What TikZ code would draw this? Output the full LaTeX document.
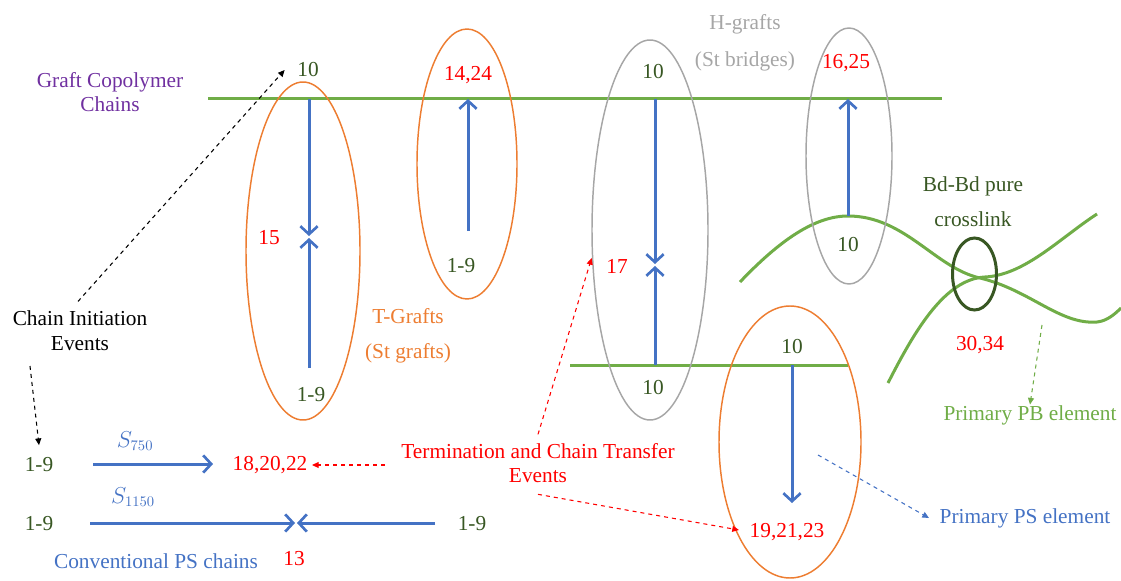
\documentclass[tikz,border=0pt]{standalone}
\usepackage{fontspec}
\setmainfont{Liberation Serif}
\usetikzlibrary{arrows.meta}
\definecolor{pblue}{HTML}{4472C4}
\definecolor{pgreen}{HTML}{70AD47}
\definecolor{dkgreen}{HTML}{385723}
\definecolor{porange}{HTML}{ED7D31}
\definecolor{pgray}{HTML}{A6A6A6}
\definecolor{ppurple}{HTML}{7030A0}
\begin{document}
\begin{tikzpicture}[x=0.75pt,y=-0.75pt,font=\fontsize{16}{18.5}\selectfont,
  chainline/.style={draw=pgreen, line width=2.25pt},
  growarrow/.style={-{Straight Barb[length=6pt,width=13pt,line width=2pt]}, draw=pblue, line width=2.25pt},
  hint/.style={-{Triangle[length=5pt,width=4.5pt]}, dashed, line width=0.8pt},
  tgraft/.style={draw=porange, line width=1.1pt},
  hgraft/.style={draw=pgray, line width=1.1pt},
  num/.style={text=dkgreen},
  evt/.style={text=red}]
\useasboundingbox (0,0) rectangle (1121,581);
\draw[chainline] (208,99) -- (942,99);
\draw[chainline] (570,365) -- (848,365);
\draw[chainline] (740,282) .. controls (780,240) and (815,216) .. (848,216)
  .. controls (905,216) and (935,268) .. (980,278)
  .. controls (1030,290) and (1060,325) .. (1097,322)
  .. controls (1107,321) and (1115,314) .. (1121,308);
\draw[chainline] (888,383) .. controls (915,330) and (945,279) .. (985,277)
  .. controls (1025,275) and (1060,238) .. (1097,214);
\draw[tgraft] (303,251) ellipse [x radius=57, y radius=169];
\draw[tgraft] (467,164) ellipse [x radius=50, y radius=135];
\draw[hgraft] (650,230) ellipse [x radius=58, y radius=190];
\draw[hgraft] (849,156) ellipse [x radius=43, y radius=128];
\draw[tgraft] (790,442) ellipse [x radius=71, y radius=136];
\draw[draw=dkgreen, line width=2.25pt] (974.5,274) ellipse [x radius=22, y radius=36];
\node[text=ppurple, align=center] (gcc) at (110,92) {Graft Copolymer\\Chains};
\node[align=center] (init) at (80,331) {Chain Initiation\\Events};
\node[text=porange, align=center] (tg) at (408,336) {T-Grafts\\[7.5pt](St grafts)};
\node[text=pgray, align=center] (hg) at (745,43) {H-grafts\\[9pt](St bridges)};
\node[text=dkgreen, align=center] (bd) at (973,202) {Bd-Bd pure\\[7.5pt]crosslink};
\node[evt, align=center] (term) at (538,463) {Termination and Chain Transfer\\Events};
\node[text=pgreen] (pbe) at (1030,415) {Primary PB element};
\node[text=pblue] (pse) at (1025,518) {Primary PS element};
\node[text=pblue] (cps) at (156,561) {Conventional PS chains};
\node[num] (n10a) at (308,70) {10};
\node[evt] (r1424) at (468,75) {14,24};
\node[evt] (r15) at (269,238) {15};
\node[num] (n19a) at (311,395) {1-9};
\node[num] (n19b) at (461,266) {1-9};
\node[num] (n10b) at (653,72) {10};
\node[evt] (r17) at (617,266) {17};
\node[num] (n10c) at (653,388) {10};
\node[evt] (r1625) at (846,63) {16,25};
\node[num] (n10d) at (848,245) {10};
\node[num] (n10e) at (792,347) {10};
\node[evt] (r3034) at (980,345) {30,34};
\node[evt] (r192123) at (787,532) {19,21,23};
\node[num] (s19a) at (39,465) {1-9};
\node[num] (s19b) at (39,524) {1-9};
\node[num] (s19c) at (472,524) {1-9};
\node[evt] (r182022) at (270,465) {18,20,22};
\node[evt] (r13) at (294,559) {13};
\node[text=pblue] (s750) at (135,441) {$S_{750}$};
\node[text=pblue] (s1150) at (133,497) {$S_{1150}$};
\coordinate (a1t) at (309,99);
\coordinate (a1m) at (309,236);
\coordinate (a1n) at (309,238);
\coordinate (a1b) at (309,368);
\coordinate (a2t) at (468,99);
\coordinate (a2b) at (468,231);
\coordinate (a3t) at (655,99);
\coordinate (a3m) at (655,264);
\coordinate (a3n) at (655,266);
\coordinate (a3b) at (655,365);
\coordinate (a4t) at (848,99);
\coordinate (a4b) at (848,216);
\coordinate (a5t) at (792,365);
\coordinate (a5b) at (792,503);
\coordinate (p1s) at (93,464);
\coordinate (p1e) at (213,464);
\coordinate (p2s) at (90,523);
\coordinate (p2m) at (295,523);
\coordinate (p2n) at (297,523);
\coordinate (p2e) at (435,523);
\coordinate (ci) at (30,366);
\coordinate (psf) at (818,455);
\coordinate (pbf) at (1042,325);
\draw[growarrow] (a1t) -- (a1m);
\draw[growarrow] (a1b) -- (a1n);
\draw[growarrow] (a2b) -- (a2t);
\draw[growarrow] (a3t) -- (a3m);
\draw[growarrow] (a3b) -- (a3n);
\draw[growarrow] (a4b) -- (a4t);
\draw[growarrow] (a5t) -- (a5b);
\draw[growarrow] (p1s) -- (p1e);
\draw[growarrow] (p2s) -- (p2m);
\draw[growarrow] (p2e) -- (p2n);
\draw[hint] ([shift={(-2,-5)}]init.north) -- ([shift={(-8,0)}]n10a.west);
\draw[hint] (ci) -- ([yshift=6pt]s19a.north);
\draw[hint, red] ([shift={(-12,0)}]term.west |- r182022) -- (r182022.east);
\draw[hint, red] ([yshift=3pt]term.north) -- ([shift={(-10,-8)}]r17.west);
\draw[hint, red] ([yshift=-5pt]term.south) -- ([shift={(-6,-2)}]r192123.west);
\draw[hint, pblue] (psf) -- ([shift={(-6,0)}]pse.west);
\draw[hint, pgreen] (pbf) -- ([yshift=-3pt]pbe.north);
\end{tikzpicture}
\end{document}
